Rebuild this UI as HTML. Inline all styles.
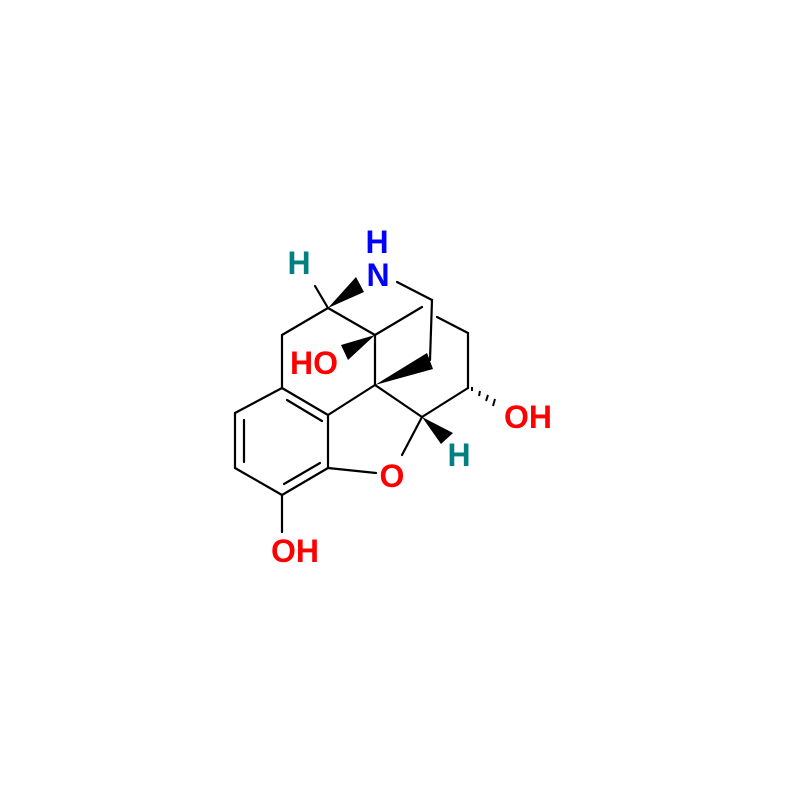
<!DOCTYPE html>
<html><head><meta charset="utf-8"><style>body{margin:0;background:#fff}</style></head><body>
<svg width="795" height="789" viewBox="0 0 795 789" xmlns="http://www.w3.org/2000/svg">
<g stroke="#000" stroke-width="2.2" fill="none" stroke-linecap="round">
<line x1="328" y1="308" x2="282" y2="335"/>
<line x1="282" y1="335" x2="282" y2="388"/>
<line x1="328" y1="308" x2="375" y2="335"/>
<line x1="375" y1="335" x2="375" y2="385"/>
<line x1="375" y1="335" x2="422" y2="307"/>
<line x1="437" y1="317" x2="468" y2="333"/>
<line x1="468" y1="333" x2="468" y2="388"/>
<line x1="468" y1="388" x2="422" y2="417"/>
<line x1="375" y1="385" x2="422" y2="417"/>
<line x1="375" y1="385" x2="328" y2="415"/>
<line x1="397" y1="282" x2="432" y2="300"/>
<line x1="432" y1="300" x2="430" y2="360"/>
<line x1="328" y1="308" x2="315" y2="286"/>
<line x1="282" y1="388" x2="328" y2="415"/>
<line x1="287" y1="400" x2="322" y2="421"/>
<line x1="282" y1="388" x2="235" y2="413"/>
<line x1="235" y1="413" x2="235" y2="468"/>
<line x1="244" y1="420" x2="244" y2="462"/>
<line x1="235" y1="468" x2="282" y2="495"/>
<line x1="282" y1="495" x2="328" y2="468"/>
<line x1="284" y1="484" x2="320" y2="463"/>
<line x1="328" y1="468" x2="328" y2="415"/>
<line x1="328" y1="468" x2="376" y2="473"/>
<line x1="402" y1="455" x2="422" y2="417"/>
<line x1="282" y1="495" x2="282" y2="532"/>
</g>
<g fill="#000">
<polygon points="328,308 356,277 364,292"/>
<polygon points="375,335 341,345 348,360"/>
<polygon points="375,385 427,353 433,369"/>
<polygon points="422,417 441,444 453,433"/>
<g stroke="#000" stroke-width="2">
<line x1="472" y1="391" x2="472" y2="387"/>
<line x1="479" y1="396" x2="480" y2="391"/>
<line x1="486" y1="401" x2="488" y2="395"/>
<line x1="493" y1="406" x2="495" y2="399"/>
</g>
</g>
<g font-family="Liberation Sans, sans-serif" font-weight="bold" font-size="32" text-anchor="middle">
<text x="377" y="253" fill="#0000ff">H</text>
<text x="378" y="286" fill="#0000ff">N</text>
<text x="299" y="274" fill="#008080">H</text>
<text x="314" y="374" fill="#ff0000">HO</text>
<text x="528" y="428" fill="#ff0000">OH</text>
<text x="459" y="466" fill="#008080">H</text>
<text x="392" y="487" fill="#ff0000">O</text>
<text x="295" y="562" fill="#ff0000">OH</text>
</g>
</svg>
</body></html>
